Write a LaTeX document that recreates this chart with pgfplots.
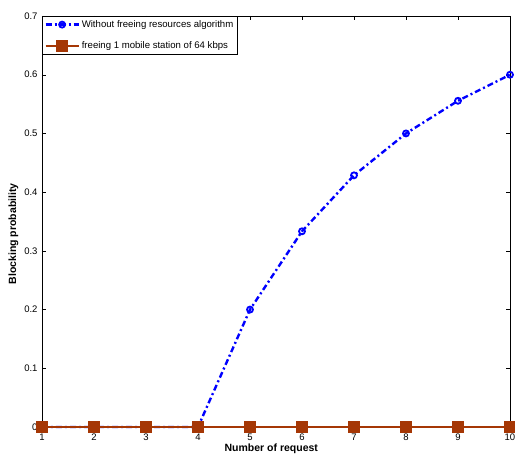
\documentclass[border=0pt]{standalone}
\usepackage{fontspec}
\setmainfont{Liberation Sans}
\usepackage{pgfplots}
\pgfplotsset{compat=1.18}
\definecolor{myblue}{RGB}{0,0,255}
\definecolor{mybrown}{RGB}{165,55,5}
\begin{document}
\begin{tikzpicture}
\begin{axis}[
  scale only axis,
  width=468pt, height=411pt,
  xmin=1, xmax=10, ymin=0, ymax=0.7,
  xtick={1,...,10},
  ytick={0,0.1,0.2,0.3,0.4,0.5,0.6,0.7},
  yticklabel style={/pgf/number format/fixed, xshift=-1pt},
  /pgf/number format/assume math mode=true,
  tick align=inside,
  tick style={black, thin},
  major tick length=4pt,
  axis line style={black, line width=0.9pt},
  ticklabel style={font=\fontsize{9.5}{10}\selectfont},
  xticklabel style={yshift=-3pt},
  xlabel={\textbf{Number of request}},
  ylabel={\textbf{Blocking probability}},
  label style={font=\fontsize{10.5}{12}\selectfont},
  xlabel style={at={(ticklabel cs:0.49)}, yshift=3pt},
  ylabel style={at={(ticklabel cs:0.47)}, yshift=-1pt},
  legend style={at={(0,1)}, anchor=north west, draw=black, line width=0.8pt,
    font=\fontsize{9.6}{11}\selectfont, inner sep=2pt, row sep=9pt,
    cells={anchor=west}},
  legend image code/.code={
    \draw[mark repeat=2,mark phase=2] plot coordinates {(0cm,0cm) (0.58cm,0cm) (1.16cm,0cm)};},
  legend cell align=left,
  clip=false,
]
\addplot[myblue, line width=2.4pt, dash pattern=on 6pt off 3pt on 2pt off 3pt,
  mark=o, mark size=3pt, mark options={solid, fill=white, line width=1.8pt}]
  coordinates {(1,0) (2,0) (3,0) (4,0) (5,0.2) (6,0.3333) (7,0.4286) (8,0.5) (9,0.5556) (10,0.6)};
\addlegendentry{Without freeing resources algorithm}
\addplot[mybrown, line width=2.4pt, mark=square*, mark size=4.5pt,
  mark options={solid, fill=mybrown}]
  coordinates {(1,0) (2,0) (3,0) (4,0) (5,0) (6,0) (7,0) (8,0) (9,0) (10,0)};
\addlegendentry{freeing 1 mobile station of 64 kbps}
\end{axis}
\pgfresetboundingbox
\path[use as bounding box] ([shift={(-42pt,-30pt)}]current axis.south west) rectangle ([shift={(5pt,16pt)}]current axis.north east);
\end{tikzpicture}
\end{document}
